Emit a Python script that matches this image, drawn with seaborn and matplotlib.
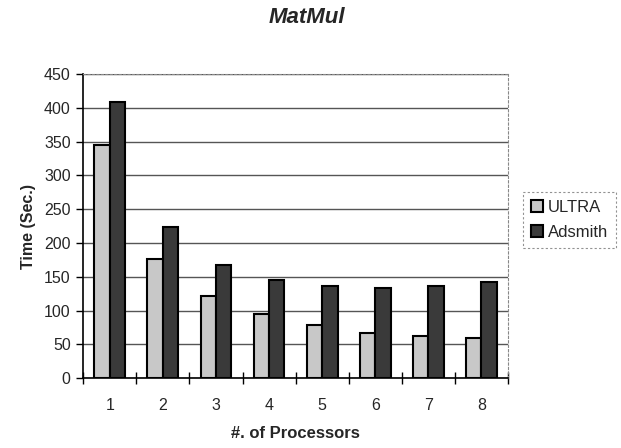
import matplotlib
matplotlib.use("Agg")
import matplotlib.pyplot as plt
import seaborn as sns
import pandas as pd

processors = ["1", "2", "3", "4", "5", "6", "7", "8"]
ultra = [345, 176, 121, 95, 79, 67, 63, 59]
adsmith = [408, 224, 167, 145, 136, 134, 136, 142]
series_names = ["ULTRA", "Adsmith"]

df = pd.DataFrame({
    "proc": processors * 2,
    "time": ultra + adsmith,
    "series": [series_names[0]] * len(processors) + [series_names[1]] * len(processors),
})

sns.set_theme(style="white")
plt.rcParams["font.family"] = ["Liberation Sans", "DejaVu Sans"]

fig = plt.figure(figsize=(6.21, 4.48), dpi=100)
ax = fig.add_axes([0.134, 0.156, 0.684, 0.679])

sns.barplot(data=df, x="proc", y="time", hue="series", order=processors,
            hue_order=series_names, palette=["#c8c8c8", "#3a3a3a"],
            width=0.58, gap=0, edgecolor="black", linewidth=1.5,
            saturation=1, ax=ax, errorbar=None)

ax.set_ylim(0, 450)
ax.set_yticks(range(0, 451, 50))
ax.set_xlim(-0.5, 7.5)
ax.yaxis.grid(True, color="#555555", linewidth=1)
ax.set_axisbelow(True)

for s in ["top", "right"]:
    ax.spines[s].set_linestyle((0, (2, 2)))
    ax.spines[s].set_color("#888888")
    ax.spines[s].set_linewidth(0.8)
for s in ["left", "bottom"]:
    ax.spines[s].set_color("black")
    ax.spines[s].set_linewidth(1.2)

ax.set_xticks(range(8))
ax.set_xticks([i + 0.5 for i in range(-1, 8)], minor=True)
ax.tick_params(axis="x", which="major", labelsize=11.5, length=0, pad=14)
ax.tick_params(axis="x", which="minor", direction="inout", length=8, color="black", width=1, bottom=True)
ax.tick_params(axis="y", direction="out", length=5, color="black", width=1, left=True, labelsize=11.5, pad=4)

ax.set_xlabel("#. of Processors", fontsize=12, fontweight="bold", labelpad=10)
ax.set_ylabel("Time (Sec.)", fontsize=11.5, fontweight="bold", labelpad=6)
fig.suptitle("MatMul", fontsize=16, fontweight="bold", fontstyle="italic", x=0.494, y=0.985)

leg = ax.legend(loc="center left", bbox_to_anchor=(1.035, 0.52), fontsize=12,
                frameon=True, fancybox=False, handlelength=0.7, handleheight=0.7,
                handletextpad=0.3, borderpad=0.5, labelspacing=0.6, title=None,
                borderaxespad=0.0)
leg.get_frame().set_edgecolor("#777777")
leg.get_frame().set_linestyle((0, (2, 2)))
leg.get_frame().set_linewidth(0.8)

fig.savefig("out.png", dpi=100)
